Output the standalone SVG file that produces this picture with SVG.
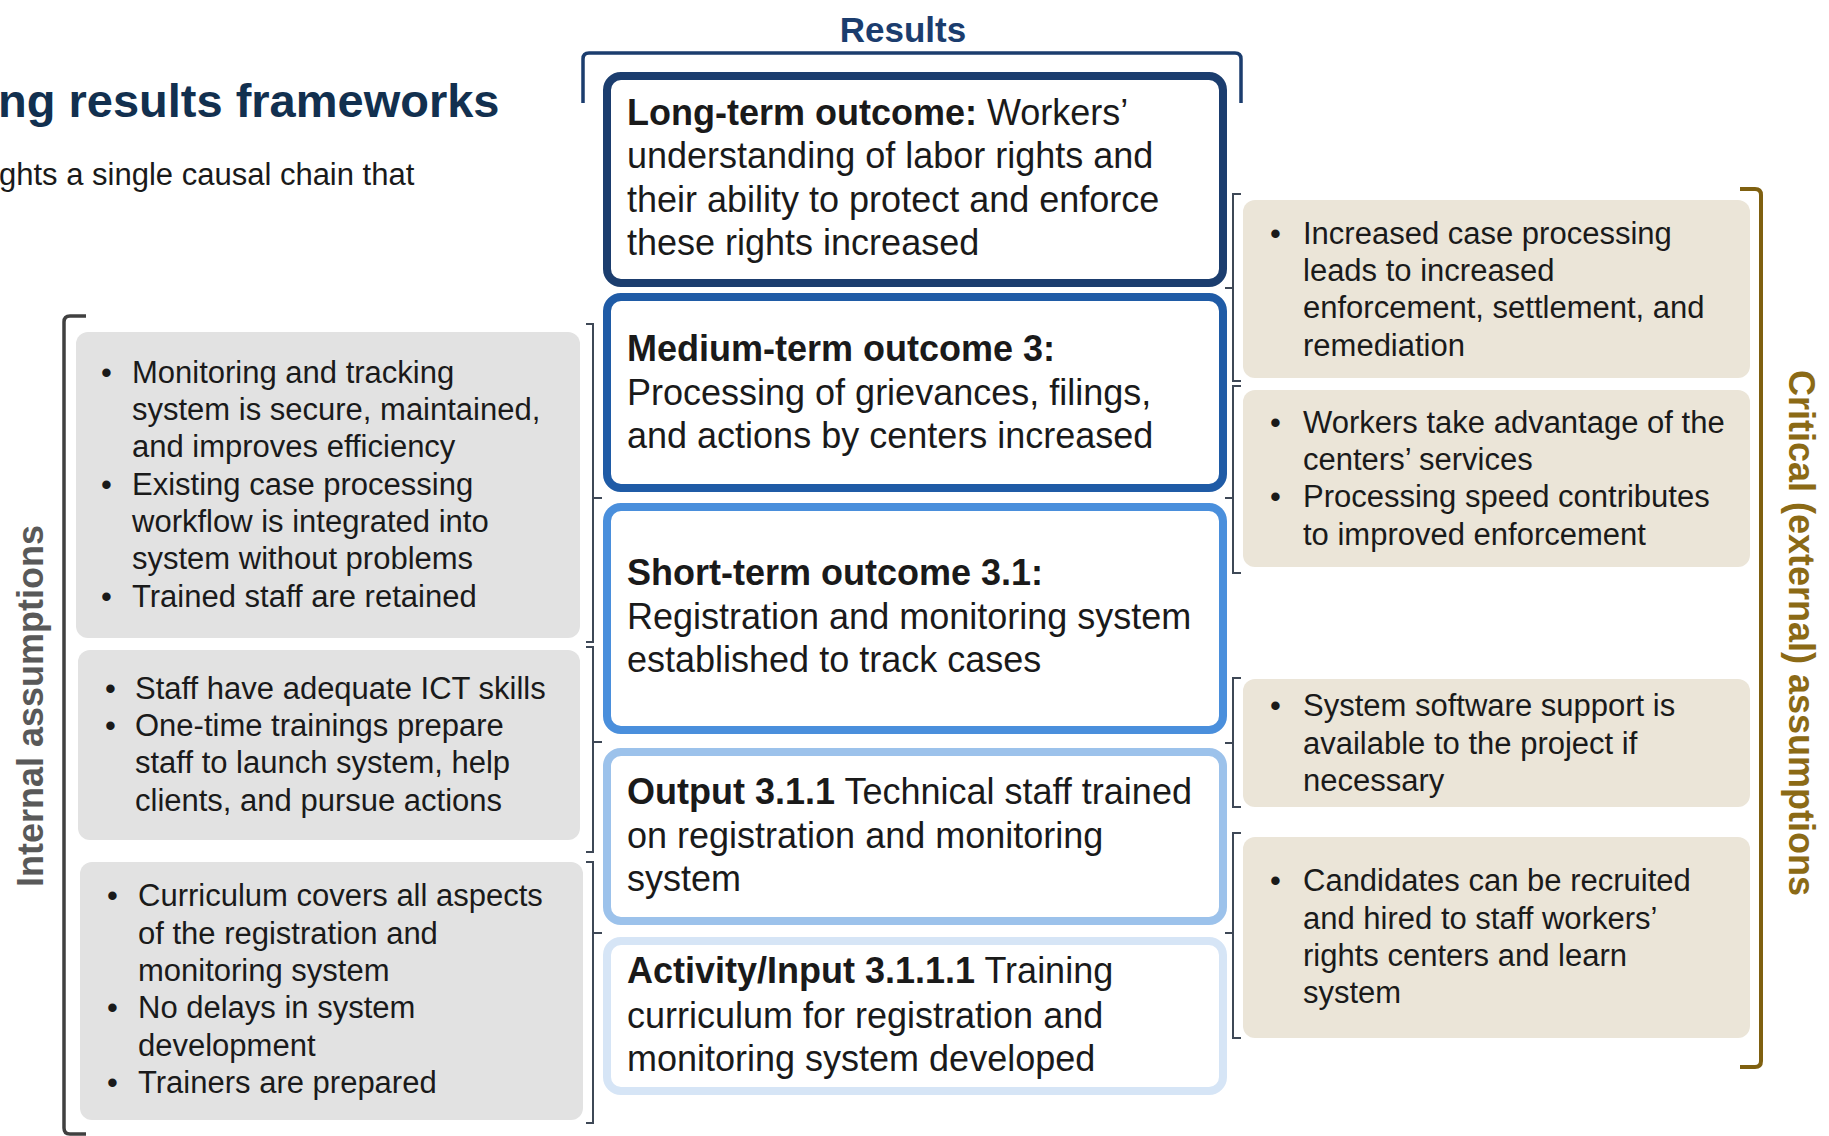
<svg xmlns="http://www.w3.org/2000/svg" width="1829" height="1136" viewBox="0 0 1829 1136">
  <style>
    text { font-family: "Liberation Sans", Arial, sans-serif; fill: #1a1a1a; }
    .title { font-size: 47px; font-weight: bold; fill: #12304f; }
    .sub { font-size: 31px; }
    .hdr { font-size: 35px; font-weight: bold; fill: #1b3d6e; }
    .side { font-size: 36px; font-weight: bold; }
    .ctr { font-size: 36px; }
    .ctr .b { font-weight: bold; }
    .asm { font-size: 31px; }
    .res { fill: #ffffff; stroke-width: 8; }
    .intl { fill: #e2e2e2; }
    .extl { fill: #ebe5d8; }
    .brk { fill: none; stroke: #3e4856; stroke-width: 2; }
  </style>

  <!-- heading -->
  <text class="title" x="-2" y="117">ng results frameworks</text>
  <text class="sub" x="-1" y="185">ghts a single causal chain that</text>

  <!-- results column header and bracket -->
  <text class="hdr" x="903" y="42" text-anchor="middle">Results</text>
  <path d="M583,103 L583,59 Q583,53 589,53 L1235,53 Q1241,53 1241,59 L1241,103" fill="none" stroke="#1b3d6e" stroke-width="3.5"/>

  <!-- side labels and their brackets -->
  <text class="side" style="fill:#595959" transform="translate(43,706) rotate(-90)" text-anchor="middle">Internal assumptions</text>
  <path d="M86,316 L70,316 Q64,316 64,322 L64,1128 Q64,1134 70,1134 L86,1134" fill="none" stroke="#404040" stroke-width="3.5"/>
  <text class="side" style="fill:#8b6a16" transform="translate(1789,633) rotate(90)" text-anchor="middle">Critical (external) assumptions</text>
  <path d="M1740,189 L1755,189 Q1761,189 1761,195 L1761,1061 Q1761,1067 1755,1067 L1740,1067" fill="none" stroke="#7f6010" stroke-width="4"/>

  <!-- results chain -->
  <g id="long-term">
    <rect class="res" x="607" y="76" width="616" height="207" rx="14" stroke="#1b3d6e"/>
    <text class="ctr" x="627" y="125"><tspan class="b">Long-term outcome:</tspan> Workers’</text>
    <text class="ctr" x="627" y="168">understanding of labor rights and</text>
    <text class="ctr" x="627" y="212">their ability to protect and enforce</text>
    <text class="ctr" x="627" y="255">these rights increased</text>
  </g>
  <g id="medium-term">
    <rect class="res" x="607" y="297" width="616" height="191" rx="14" stroke="#1f5ba6"/>
    <text class="ctr" x="627" y="361"><tspan class="b">Medium-term outcome 3:</tspan></text>
    <text class="ctr" x="627" y="405">Processing of grievances, filings,</text>
    <text class="ctr" x="627" y="448">and actions by centers increased</text>
  </g>
  <g id="short-term">
    <rect class="res" x="607" y="507" width="616" height="223" rx="14" stroke="#4a8fdc"/>
    <text class="ctr" x="627" y="585"><tspan class="b">Short-term outcome 3.1:</tspan></text>
    <text class="ctr" x="627" y="629">Registration and monitoring system</text>
    <text class="ctr" x="627" y="672">established to track cases</text>
  </g>
  <g id="output">
    <rect class="res" x="607" y="752" width="616" height="169" rx="14" stroke="#9cc2eb"/>
    <text class="ctr" x="627" y="804"><tspan class="b">Output 3.1.1</tspan> Technical staff trained</text>
    <text class="ctr" x="627" y="848">on registration and monitoring</text>
    <text class="ctr" x="627" y="891">system</text>
  </g>
  <g id="activity">
    <rect class="res" x="607" y="941" width="616" height="150" rx="14" stroke="#d6e5f6"/>
    <text class="ctr" x="627" y="983"><tspan class="b">Activity/Input 3.1.1.1</tspan> Training</text>
    <text class="ctr" x="627" y="1028">curriculum for registration and</text>
    <text class="ctr" x="627" y="1071">monitoring system developed</text>
  </g>

  <!-- internal assumptions -->
  <g id="internal-1">
    <rect class="intl" x="76" y="332" width="504" height="306" rx="12"/>
    <text class="asm" x="101" y="383">•</text>
    <text class="asm" x="132" y="383">Monitoring and tracking</text>
    <text class="asm" x="132" y="420">system is secure, maintained,</text>
    <text class="asm" x="132" y="457">and improves efficiency</text>
    <text class="asm" x="101" y="495">•</text>
    <text class="asm" x="132" y="495">Existing case processing</text>
    <text class="asm" x="132" y="532">workflow is integrated into</text>
    <text class="asm" x="132" y="569">system without problems</text>
    <text class="asm" x="101" y="607">•</text>
    <text class="asm" x="132" y="607">Trained staff are retained</text>
  </g>
  <g id="internal-2">
    <rect class="intl" x="78" y="650" width="502" height="190" rx="12"/>
    <text class="asm" x="105" y="699">•</text>
    <text class="asm" x="135" y="699">Staff have adequate ICT skills</text>
    <text class="asm" x="105" y="736">•</text>
    <text class="asm" x="135" y="736">One-time trainings prepare</text>
    <text class="asm" x="135" y="773">staff to launch system, help</text>
    <text class="asm" x="135" y="811">clients, and pursue actions</text>
  </g>
  <g id="internal-3">
    <rect class="intl" x="80" y="862" width="503" height="258" rx="12"/>
    <text class="asm" x="107" y="906">•</text>
    <text class="asm" x="138" y="906">Curriculum covers all aspects</text>
    <text class="asm" x="138" y="944">of the registration and</text>
    <text class="asm" x="138" y="981">monitoring system</text>
    <text class="asm" x="107" y="1018">•</text>
    <text class="asm" x="138" y="1018">No delays in system</text>
    <text class="asm" x="138" y="1056">development</text>
    <text class="asm" x="107" y="1093">•</text>
    <text class="asm" x="138" y="1093">Trainers are prepared</text>
  </g>

  <!-- external assumptions -->
  <g id="external-1">
    <rect class="extl" x="1243" y="200" width="507" height="178" rx="12"/>
    <text class="asm" x="1270" y="244">•</text>
    <text class="asm" x="1303" y="244">Increased case processing</text>
    <text class="asm" x="1303" y="281">leads to increased</text>
    <text class="asm" x="1303" y="318">enforcement, settlement, and</text>
    <text class="asm" x="1303" y="356">remediation</text>
  </g>
  <g id="external-2">
    <rect class="extl" x="1243" y="390" width="507" height="177" rx="12"/>
    <text class="asm" x="1270" y="433">•</text>
    <text class="asm" x="1303" y="433">Workers take advantage of the</text>
    <text class="asm" x="1303" y="470">centers’ services</text>
    <text class="asm" x="1270" y="507">•</text>
    <text class="asm" x="1303" y="507">Processing speed contributes</text>
    <text class="asm" x="1303" y="545">to improved enforcement</text>
  </g>
  <g id="external-3">
    <rect class="extl" x="1243" y="679" width="507" height="128" rx="12"/>
    <text class="asm" x="1270" y="716">•</text>
    <text class="asm" x="1303" y="716">System software support is</text>
    <text class="asm" x="1303" y="754">available to the project if</text>
    <text class="asm" x="1303" y="791">necessary</text>
  </g>
  <g id="external-4">
    <rect class="extl" x="1243" y="837" width="507" height="201" rx="12"/>
    <text class="asm" x="1270" y="891">•</text>
    <text class="asm" x="1303" y="891">Candidates can be recruited</text>
    <text class="asm" x="1303" y="929">and hired to staff workers’</text>
    <text class="asm" x="1303" y="966">rights centers and learn</text>
    <text class="asm" x="1303" y="1003">system</text>
  </g>

  <!-- brace connectors tying assumptions to the chain -->
  <g id="connectors">
    <path class="brk" d="M586,324 L593,324 L593,642 L586,642 M593,498 L602,498"/>
    <path class="brk" d="M586,647 L593,647 L593,852 L586,852 M593,742 L602,742"/>
    <path class="brk" d="M586,862 L593,862 L593,1123 L586,1123 M593,933 L602,933"/>
    <path class="brk" d="M1241,194 L1233,194 L1233,381 L1241,381 M1233,288 L1225,288"/>
    <path class="brk" d="M1241,386 L1233,386 L1233,573 L1241,573 M1233,498 L1225,498"/>
    <path class="brk" d="M1241,678 L1233,678 L1233,807 L1241,807 M1233,743 L1225,743"/>
    <path class="brk" d="M1241,833 L1233,833 L1233,1038 L1241,1038 M1233,933 L1225,933"/>
  </g>
</svg>
